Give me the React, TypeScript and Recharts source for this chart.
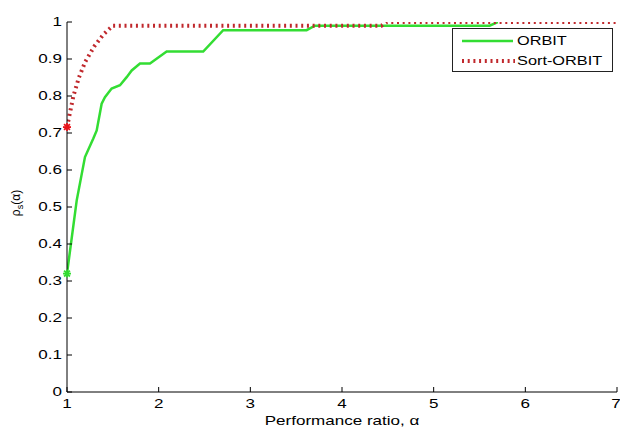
import React from 'react';
import { LineChart, Line, XAxis, YAxis, ReferenceDot, Label } from 'recharts';

// performance profile
const ORBIT_ALPHA = [1.0, 1.106, 1.196, 1.287, 1.324, 1.378, 1.414, 1.487, 1.578, 1.651, 1.706, 1.796, 1.905, 2.087, 2.486, 2.704, 3.614, 3.704, 5.61, 5.7];
const ORBIT_RHO = [0.32, 0.518, 0.635, 0.685, 0.707, 0.779, 0.797, 0.82, 0.829, 0.851, 0.869, 0.888, 0.888, 0.92, 0.92, 0.978, 0.978, 0.99, 0.99, 1.0];

const SORT_ALPHA = [1.0, 1.07, 1.13, 1.2, 1.3, 1.4, 1.5, 4.43, 4.49, 7.0];
const SORT_RHO = [0.716, 0.8, 0.85, 0.893, 0.935, 0.967, 0.99, 0.99, 1.0, 1.0];

const X_TICKS = [1, 2, 3, 4, 5, 6, 7];
const Y_TICKS = [0, 0.1, 0.2, 0.3, 0.4, 0.5, 0.6, 0.7, 0.8, 0.9, 1];
const SERIES_NAMES = ['ORBIT', 'Sort-ORBIT'];

const GREEN = '#33dd33';
const RED = '#c0282c';
const FONT = '"Liberation Sans", Arial, sans-serif';
const STRETCH = 1.42;

const orbitData = ORBIT_ALPHA.map((a, i) => ({ alpha: a, rho: ORBIT_RHO[i] }));
const sortData = SORT_ALPHA.map((a, i) => ({ alpha: a, rho: SORT_RHO[i] }));

const YTick = (props: any) => (
  <text
    transform={`translate(${props.x},${props.y}) scale(${STRETCH},1)`}
    textAnchor="end"
    dy="0.355em"
    fontSize={12}
    fontFamily={FONT}
    fill="#000"
  >
    {String(props.payload.value)}
  </text>
);

const XTick = (props: any) => (
  <text
    transform={`translate(${props.x},${props.y}) scale(${STRETCH},1)`}
    textAnchor="middle"
    dy="0.71em"
    fontSize={12}
    fontFamily={FONT}
    fill="#000"
  >
    {String(props.payload.value)}
  </text>
);

const Star = (color: string) => (props: any) => {
  const { cx, cy } = props;
  const r = 4;
  const d = 2.9;
  return (
    <g stroke={color} strokeWidth={1.8}>
      <line x1={cx - r} y1={cy} x2={cx + r} y2={cy} />
      <line x1={cx} y1={cy - r} x2={cx} y2={cy + r} />
      <line x1={cx - d} y1={cy - d} x2={cx + d} y2={cy + d} />
      <line x1={cx - d} y1={cy + d} x2={cx + d} y2={cy - d} />
    </g>
  );
};

const YLabel = (props: any) => {
  const vb = props.viewBox;
  const cy = vb.y + vb.height / 2 - 4;
  return (
    <text transform={`translate(${vb.x + 3},${cy}) rotate(-90)`} textAnchor="middle" fontSize={12} fontFamily={FONT} fill="#000">
      ρ<tspan fontSize={9} dy={3}>s</tspan>
      <tspan dy={-3}>(α)</tspan>
    </text>
  );
};

const XLabel = (props: any) => {
  const vb = props.viewBox;
  return (
    <text
      transform={`translate(${vb.x + vb.width / 2},${vb.y + 33}) scale(${STRETCH},1)`}
      textAnchor="middle"
      fontSize={12}
      fontFamily={FONT}
      fill="#000"
    >
      Performance ratio, α
    </text>
  );
};

const LegendBox = () => (
  <svg width={161} height={44} style={{ position: 'absolute', left: 452, top: 28, display: 'block' }}>
    <rect x={0.5} y={0.5} width={160} height={43} fill="#fff" stroke="#222" />
    <line x1={10} y1={13} x2={61} y2={13} stroke={GREEN} strokeWidth={2.5} />
    <line x1={10} y1={33} x2={63} y2={33} stroke={RED} strokeWidth={4} strokeDasharray="2 3.7" />
    {SERIES_NAMES.map((t, i) => (
      <text
        key={t}
        transform={`translate(65,${13 + i * 20}) scale(1.36,1)`}
        dy="0.355em"
        fontSize={12}
        fontFamily={FONT}
        fill="#000"
      >
        {t}
      </text>
    ))}
  </svg>
);

export default function App() {
  return (
    <div style={{ position: 'absolute', left: 0, top: 0, width: 620, height: 428, background: '#fff' }}>
      <LineChart width={620} height={428} margin={{ top: 22, right: 3, left: 17, bottom: 6 }}>
        <XAxis
          type="number"
          dataKey="alpha"
          domain={[1, 7]}
          ticks={X_TICKS}
          allowDataOverflow
          height={30}
          stroke="#000"
          tickSize={-5}
          tickMargin={12}
          tick={XTick}
        >
          <Label content={XLabel} />
        </XAxis>
        <YAxis
          type="number"
          domain={[0, 1]}
          ticks={Y_TICKS}
          allowDataOverflow
          width={50}
          stroke="#000"
          tickSize={-5}
          tickMargin={10}
          tick={YTick}
        >
          <Label content={YLabel} />
        </YAxis>
        <Line
          data={orbitData}
          dataKey="rho"
          name={SERIES_NAMES[0]}
          type="linear"
          stroke={GREEN}
          strokeWidth={2.5}
          dot={false}
          activeDot={false}
          isAnimationActive={false}
        />
        <Line
          data={sortData}
          dataKey="rho"
          name={SERIES_NAMES[1]}
          type="linear"
          stroke={RED}
          strokeWidth={4}
          strokeDasharray="2 3.7"
          dot={false}
          activeDot={false}
          isAnimationActive={false}
        />
        <ReferenceDot x={ORBIT_ALPHA[0]} y={ORBIT_RHO[0]} shape={Star(GREEN)} ifOverflow="visible" />
        <ReferenceDot x={SORT_ALPHA[0]} y={SORT_RHO[0]} shape={Star('#e8141c')} ifOverflow="visible" />
      </LineChart>
      <LegendBox />
    </div>
  );
}
